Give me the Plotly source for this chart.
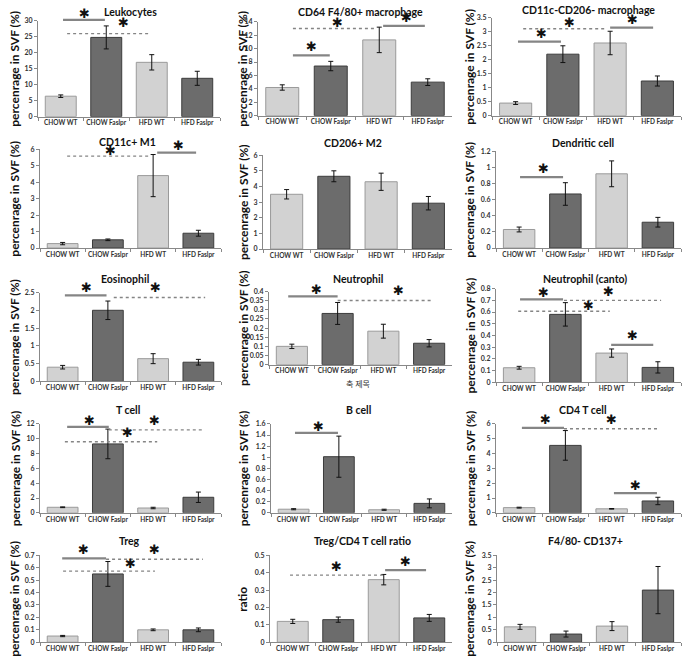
import plotly.graph_objects as go

categories = ["CHOW WT", "CHOW Faslpr", "HFD WT", "HFD Faslpr"]

panel_titles = ["Leukocytes", "CD64 F4/80+ macrophage", "CD11c-CD206- macrophage",
                "CD11c+ M1", "CD206+ M2", "Dendritic cell",
                "Eosinophil", "Neutrophil", "Neutrophil (canto)",
                "T cell", "B cell", "CD4 T cell",
                "Treg", "Treg/CD4 T cell ratio", "F4/80- CD137+"]

leukocytes = [6.4, 24.8, 17.0, 12.0]
leukocytes_err = [0.4, 3.6, 2.4, 2.2]
cd64 = [4.2, 7.4, 11.3, 5.0]
cd64_err = [0.4, 0.7, 1.9, 0.5]
cd11c_cd206 = [0.45, 2.2, 2.6, 1.24]
cd11c_cd206_err = [0.05, 0.3, 0.42, 0.18]
m1 = [0.27, 0.5, 4.4, 0.9]
m1_err = [0.07, 0.05, 1.28, 0.18]
m2 = [3.5, 4.65, 4.3, 2.93]
m2_err = [0.3, 0.35, 0.55, 0.43]
dendritic = [0.23, 0.67, 0.92, 0.32]
dendritic_err = [0.03, 0.14, 0.16, 0.06]
eosinophil = [0.4, 2.0, 0.64, 0.54]
eosinophil_err = [0.05, 0.26, 0.14, 0.08]
neutrophil = [0.1, 0.28, 0.183, 0.117]
neutrophil_err = [0.012, 0.06, 0.038, 0.02]
neutrophil_canto = [0.125, 0.58, 0.25, 0.128]
neutrophil_canto_err = [0.012, 0.1, 0.035, 0.048]
t_cell = [0.75, 9.3, 0.65, 2.1]
t_cell_err = [0.05, 2.0, 0.1, 0.7]
b_cell = [0.065, 1.01, 0.055, 0.17]
b_cell_err = [0.01, 0.37, 0.01, 0.08]
cd4_t = [0.35, 4.55, 0.27, 0.8]
cd4_t_err = [0.03, 1.0, 0.02, 0.25]
treg = [0.05, 0.55, 0.1, 0.1]
treg_err = [0.005, 0.1, 0.007, 0.015]
treg_ratio = [0.12, 0.13, 0.36, 0.14]
treg_ratio_err = [0.012, 0.015, 0.03, 0.02]
f480_cd137 = [0.62, 0.33, 0.65, 2.1]
f480_cd137_err = [0.1, 0.12, 0.18, 0.95]

values = [leukocytes, cd64, cd11c_cd206, m1, m2, dendritic, eosinophil, neutrophil,
          neutrophil_canto, t_cell, b_cell, cd4_t, treg, treg_ratio, f480_cd137]
errors = [leukocytes_err, cd64_err, cd11c_cd206_err, m1_err, m2_err, dendritic_err,
          eosinophil_err, neutrophil_err, neutrophil_canto_err, t_cell_err, b_cell_err,
          cd4_t_err, treg_err, treg_ratio_err, f480_cd137_err]
y_max = [30, 14, 3.5, 6, 6, 1.2, 2.5, 0.4, 0.8, 12, 1.6, 6, 0.7, 0.5, 3.5]
y_dtick = [5, 2, 0.5, 1, 1, 0.2, 0.5, 0.05, 0.1, 2, 0.2, 1, 0.1, 0.1, 0.5]
y_titles = ["percenrage in SVF (%)"] * 13 + ["ratio", "percenrage in SVF (%)"]

# significance lines: (panel, x0, x1, y, style)
sig_lines = [
    (0, 0.05, 0.97, 30.3, "solid"), (0, 0.14, 1.96, 26.0, "dot"),
    (1, 0.22, 0.98, 9.0, "solid"), (1, 0.22, 1.91, 13.0, "dot"), (1, 2.08, 2.94, 13.4, "solid"),
    (2, 0.05, 0.96, 2.65, "solid"), (2, 0.16, 1.93, 3.11, "dot"), (2, 2.0, 2.91, 3.15, "solid"),
    (3, 0.1, 1.89, 5.58, "dot"), (3, 2.09, 2.95, 5.8, "solid"),
    (5, 0.02, 0.95, 0.88, "solid"),
    (6, 0.05, 0.97, 2.42, "solid"), (6, 1.13, 3.15, 2.36, "dot"),
    (7, -0.08, 1.0, 0.373, "solid"), (7, 1.0, 3.08, 0.351, "dot"),
    (8, 0.02, 0.95, 0.707, "solid"), (8, 0.97, 3.07, 0.699, "dot"),
    (8, -0.02, 1.96, 0.606, "dot"), (8, 1.99, 2.9, 0.32, "solid"),
    (9, 0.1, 1.02, 11.6, "solid"), (9, 1.02, 3.12, 11.2, "dot"), (9, 0.05, 2.09, 9.6, "dot"),
    (10, 0.03, 0.98, 1.44, "solid"),
    (11, 0.06, 0.97, 5.73, "solid"), (11, 0.97, 3.0, 5.67, "dot"), (11, 2.05, 2.98, 1.33, "solid"),
    (12, -0.01, 0.96, 0.676, "solid"), (12, 0.96, 3.1, 0.668, "dot"), (12, 0.01, 2.04, 0.573, "dot"),
    (13, -0.06, 1.98, 0.386, "dot"), (13, 2.03, 2.93, 0.415, "solid"),
]
# asterisks: (panel, x, y)
sig_stars = [
    (0, 0.53, 32.2), (0, 1.37, 29.4),
    (1, 0.61, 10.3), (1, 1.13, 13.85), (1, 2.57, 14.6),
    (2, 0.54, 2.93), (2, 1.15, 3.32), (2, 2.48, 3.43),
    (3, 1.05, 5.9), (3, 2.55, 6.25),
    (5, 0.52, 0.98),
    (6, 0.52, 2.64), (6, 2.05, 2.64),
    (7, 0.53, 0.41), (7, 2.32, 0.405),
    (8, 0.52, 0.766), (8, 1.94, 0.775), (8, 1.49, 0.657), (8, 2.46, 0.396),
    (9, 0.6, 12.5), (9, 2.04, 12.4), (9, 1.44, 10.8),
    (10, 0.54, 1.56),
    (11, 0.56, 6.27), (11, 1.99, 6.27), (11, 2.52, 1.87),
    (12, 0.47, 0.75), (12, 2.04, 0.75), (12, 1.51, 0.636),
    (13, 0.97, 0.438), (13, 2.47, 0.466),
]

W, H = 685, 666
# plot boxes in pixels: left, right, top, bottom
boxes = [
    (38, 220, 16, 113), (258, 452, 17, 112), (492, 681, 13, 112),
    (40, 221, 146, 246), (263, 452, 152, 247), (496, 681, 148, 246),
    (40, 221, 291, 381), (269, 452, 290, 364), (496, 681, 287, 382),
    (40, 221, 424, 514), (271, 452, 424, 514), (496, 681, 424, 514),
    (40, 221, 557, 645), (270, 452, 557, 645), (497, 681, 557, 645),
]
title_x = [130, 360, 588, 127, 353, 583, 125, 358, 585, 128, 358, 583, 129, 362, 585]
title_y = [7, 7, 5, 139, 140, 140, 277, 277, 277, 410, 410, 410, 543, 543, 543]
ytitle_x = [15, 243, 470]

LIGHT, LIGHT_EDGE = "#d2d2d2", "#9a9a9a"
DARK, DARK_EDGE = "#6c6c6c", "#3c3c3c"
FONT = "Lato"


def paper_x(p, idx):
    l, r, t, b = boxes[p]
    return (l + (idx + 0.5) * (r - l) / 4) / W


def paper_y(p, v):
    l, r, t, b = boxes[p]
    return 1 - (b - (b - t) * v / y_max[p]) / H


fig = go.Figure()
layout = dict(width=W, height=H, margin=dict(l=0, r=0, t=0, b=0),
              paper_bgcolor="white", plot_bgcolor="white", showlegend=False,
              font=dict(family=FONT, color="#222"))
annotations = []
shapes = []

for i in range(15):
    xa = "x" if i == 0 else f"x{i+1}"
    ya = "y" if i == 0 else f"y{i+1}"
    xkey = "xaxis" if i == 0 else f"xaxis{i+1}"
    ykey = "yaxis" if i == 0 else f"yaxis{i+1}"
    l, r, t, b = boxes[i]
    fig.add_trace(go.Bar(
        x=categories, y=values[i], xaxis=xa, yaxis=ya, width=0.68,
        marker=dict(color=[LIGHT, DARK, LIGHT, DARK],
                    line=dict(color=[LIGHT_EDGE, DARK_EDGE, LIGHT_EDGE, DARK_EDGE], width=1)),
        error_y=dict(type="data", array=errors[i], visible=True, color="#111",
                     thickness=1, width=2.5),
    ))
    layout[xkey] = dict(domain=[l / W, r / W], anchor=ya, type="category",
                        range=[-0.5, 3.5], showline=True, linecolor="#888", linewidth=1,
                        ticks="outside", tickson="boundaries", ticklen=3, tickcolor="#888",
                        tickangle=0,
                        tickfont=dict(size=6.5, family=FONT, weight="bold", color="#333"),
                        showgrid=False, fixedrange=True)
    layout[ykey] = dict(domain=[1 - b / H, 1 - t / H], anchor=xa, range=[0, y_max[i]],
                        dtick=y_dtick[i], tick0=0, showline=True, linecolor="#888",
                        linewidth=1, ticks="outside", ticklen=3, tickcolor="#888",
                        tickfont=dict(size=7, family=FONT, weight="bold", color="#333"),
                        showgrid=False, zeroline=False, fixedrange=True)
    annotations.append(dict(text=panel_titles[i], x=title_x[i] / W, y=1 - title_y[i] / H,
                            xref="paper", yref="paper", showarrow=False,
                            xanchor="center", yanchor="middle",
                            font=dict(size=10.5, family=FONT, weight="bold", color="#111")))
    annotations.append(dict(text=y_titles[i], x=ytitle_x[i % 3] / W, y=1 - (t + b) / 2 / H,
                            xref="paper", yref="paper", showarrow=False, textangle=-90,
                            xanchor="center", yanchor="middle",
                            font=dict(size=12, family=FONT, weight="bold", color="#111")))

# x-axis title of the Neutrophil panel
annotations.append(dict(text="축 제목", x=358 / W, y=1 - 383 / H, xref="paper", yref="paper",
                        showarrow=False, xanchor="center", yanchor="middle",
                        font=dict(size=8, family="Noto Sans CJK KR", color="#333")))

for p, x0, x1, yv, style in sig_lines:
    if style == "solid":
        ln = dict(color="#858585", width=2.2)
    else:
        ln = dict(color="#858585", width=1.4, dash="dot")
    shapes.append(dict(type="line", xref="paper", yref="paper",
                       x0=paper_x(p, x0), x1=paper_x(p, x1),
                       y0=paper_y(p, yv), y1=paper_y(p, yv), line=ln))

for p, xv, yv in sig_stars:
    annotations.append(dict(text="✱", x=paper_x(p, xv), y=paper_y(p, yv),
                            xref="paper", yref="paper", showarrow=False,
                            xanchor="center", yanchor="middle",
                            font=dict(size=13, family="DejaVu Sans", color="#111")))

layout["annotations"] = annotations
layout["shapes"] = shapes
fig.update_layout(**layout)
fig.write_html("out.html", config={"displayModeBar": False},
               post_script="document.body.style.margin='0';document.body.style.overflow='hidden';")
